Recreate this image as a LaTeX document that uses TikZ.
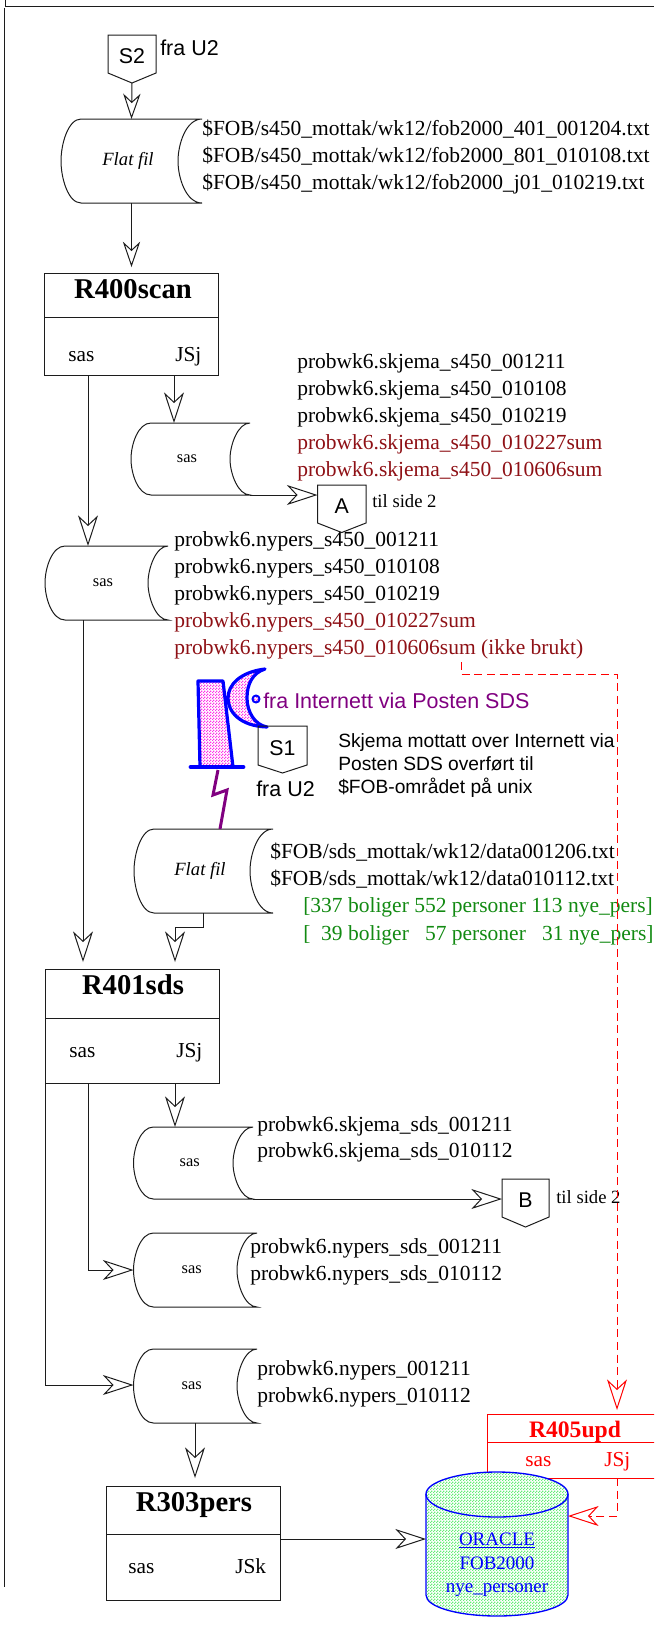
\documentclass[tikz,border=0pt]{standalone}
\usepackage{fontspec}
\setmainfont{Liberation Serif}
\newfontfamily\arialf{Liberation Sans}
\usetikzlibrary{arrows.meta,fit,patterns,calc}
\newcommand\fsz[1]{\fontsize{#1}{#1}\selectfont}
\definecolor{lnk}{HTML}{1C1C1C}
\definecolor{dkred}{HTML}{8E1015}
\definecolor{grn}{HTML}{128A12}
\definecolor{prp}{HTML}{800080}
\definecolor{dotgreen}{HTML}{66EE77}
\definecolor{dotmag}{HTML}{FF33E8}
\pgfdeclarepatternformonly{finecheck}{\pgfpointorigin}{\pgfqpoint{2pt}{2pt}}{\pgfqpoint{2pt}{2pt}}{%
  \pgfpathrectangle{\pgfpointorigin}{\pgfqpoint{1pt}{1pt}}%
  \pgfpathrectangle{\pgfqpoint{1pt}{1pt}}{\pgfqpoint{1pt}{1pt}}%
  \pgfusepath{fill}}
\tikzset{
  bigtip/.tip={Stealth[open,length=23pt,width=15pt,inset=7pt]},
  smalltip/.tip={Stealth[open,length=19pt,width=13pt,inset=6pt]},
  shape line/.style={draw=lnk,line width=.75pt},
  conn/.style={draw=lnk,line width=.75pt,-bigtip},
  connsmall/.style={draw=lnk,line width=.75pt,-smalltip},
  redconn/.style={draw=red,line width=.75pt,dash pattern=on 6pt off 3.5pt,-bigtip},
  boxfit/.style={inner sep=0pt,outer sep=0pt},
  txt/.style={anchor=base west,inner sep=0pt,font=\fsz{16.12}},
  ttl/.style={anchor=base,inner sep=0pt,font=\fsz{21.5}\bfseries},
  lbl/.style={anchor=base west,inner sep=0pt,font=\fsz{16}},
  sm/.style={anchor=base west,inner sep=0pt,font=\fsz{14}},
  sans/.style={anchor=base west,inner sep=0pt,font=\arialf\fsz{16.1}},
  sansnote/.style={anchor=base west,inner sep=0pt,font=\arialf\fsz{14.4}},
  letter/.style={anchor=base,inner sep=0pt,font=\arialf\fsz{16}},
  filetxt/.style={anchor=center,inner sep=0pt},
  dbtxt/.style={anchor=base,inner sep=0pt,text=blue,font=\fsz{#1}},
  dish/.style={draw=blue,line width=2.4pt,line join=round,preaction={fill=white},pattern=finecheck,pattern color=dotmag},
}
% process box
\newcommand\procbox[7][lnk]{%
  \node[boxfit,draw=#1,line width=.75pt,fit={(#3,#4)(#5,#6)}] (#2) {};
  \draw[#1,line width=.75pt] (#3,#7) -- (#5,#7);
}
% off-page connector: name,x1,y1,x2,yside,ytip,letter
\newcommand\offpage[7]{%
  \node[boxfit,fit={(#2,#3)(#4,#6)}] (#1) {};
  \pgfmathsetmacro\xm{(#2+#4)/2}
  \draw[shape line,line join=miter] (#2,#3) -- (#4,#3) -- (#4,#5) -- (\xm,#6) -- (#2,#5) -- cycle;
  \pgfmathsetmacro\yb{#5-10}
  \node[letter] (#1-t) at (\xm,\yb) {#7};
}
% data store: name,xl,yt,xr,yb,xi,font,text
\newcommand\storage[8]{%
  \node[boxfit,fit={(#2,#3)(#4,#5)}] (#1) {};
  \pgfmathsetmacro\ym{(#3+#5)/2}
  \pgfmathsetmacro\xs{#2+20}
  \pgfmathsetmacro\dy{(#5-#3)*0.2}
  \draw[shape line] (#4,#3) -- (\xs,#3)
    .. controls ({#2+7},#3) and (#2,{\ym-\dy}) .. (#2,\ym)
    .. controls (#2,{\ym+\dy}) and ({#2+7},#5) .. (\xs,#5) -- (#4,#5)
    .. controls ({#6+8},#5) and (#6,{\ym+\dy}) .. (#6,\ym)
    .. controls (#6,{\ym-\dy}) and ({#6+8},#3) .. (#4,#3);
  \pgfmathsetmacro\xt{(#2+#4)/2-3.5}
  \node[filetxt,font=#7] (#1-t) at (\xt,\ym) {#8};
}
\begin{document}
\begin{tikzpicture}[x=.75pt,y=-.75pt]
\useasboundingbox (0,0) rectangle (654,1629);
\clip (0,0) rectangle (654,1629);
% page frame
\draw[shape line] (5,0) -- (5,6.5) -- (654,6.5);
\draw[shape line] (4,8) -- (4,1587);

% S2 and first flat file
\offpage{s2}{108}{35}{156}{73}{83}{S2}
\node[sans] (s2l) at (160,55) {fra U2};
\storage{flat1}{61}{119}{202}{203}{178}{\fsz{14}\itshape}{Flat fil}
\draw[connsmall] (s2.south) -- (131.5,0 |- flat1.north);
\node[txt] (f1a) at (202,135) {\$FOB/s450\_mottak/wk12/fob2000\_401\_001204.txt};
\node[txt] (f1b) at (202,162) {\$FOB/s450\_mottak/wk12/fob2000\_801\_010108.txt};
\node[txt] (f1c) at (202,189) {\$FOB/s450\_mottak/wk12/fob2000\_j01\_010219.txt};

% R400scan
\procbox{r400}{44.5}{273}{218}{375}{317}
\node[ttl] (r400t) at (133,298) {R400scan};
\node[lbl] (r400a) at (68,361) {sas};
\node[lbl] (r400b) at (175,361) {JSj};
\draw[connsmall,shorten >=4.5pt] (131.5,0 |- flat1.south) -- (131.5,0 |- r400.north);

% store skjema s450
\storage{st1}{131}{423}{250}{495}{230}{\fsz{12.3}}{sas}
\draw[conn] (174,0 |- r400.south) -- (174,0 |- st1.north);
\foreach \nm/\yy/\cc/\tx in {sk1/368/black/001211,sk2/395/black/010108,sk3/422/black/010219,sk4/449/dkred/010227sum,sk5/476/dkred/010606sum}
  \node[txt,text=\cc] (\nm) at (297,\yy) {probwk6.skjema\_s450\_\tx};
\offpage{nodeA}{317.5}{485}{366}{523}{532.5}{A}
\node[sm] (tilA) at (372,507) {til side 2};
\draw[conn] (st1.south east) -- (nodeA.west |- st1.south east);

% store nypers s450
\storage{st2}{45}{546}{168}{620}{148}{\fsz{12.3}}{sas}
\draw[conn] (88,0 |- r400.south) -- (88,0 |- st2.north);
\foreach \nm/\yy/\cc/\tx in {ny1/546/black/001211,ny2/573/black/010108,ny3/600/black/010219,ny4/627/dkred/010227sum,ny5/654/dkred/010606sum (ikke brukt)}
  \node[txt,text=\cc] (\nm) at (174,\yy) {probwk6.nypers\_s450\_\tx};

% dish icon
\draw[dish] (198,681) -- (223,681) -- (233,767) -- (200,767) -- cycle;
\draw[dish] (265,669) .. controls (240,672) and (228,685) .. (228,698)
   .. controls (228,712) and (240,726) .. (267,727)
   .. controls (255,725) and (247,712) .. (247,698)
   .. controls (247,685) and (252,673) .. (265,669) -- cycle;
\draw[blue,line width=2.4pt] (225,698) -- (228,698);
\draw[blue,line width=3.6pt,line cap=round] (191,767) -- (243,767);
\draw[dish,line width=1.5pt] (256,699) circle [radius=3.5];
\coordinate (dishfoot) at (218,770);
\node[sans,text=prp] (inet) at (263,708) {fra Internett via Posten SDS};
\offpage{s1}{258}{726}{307}{765}{773}{S1}
\node[sans] (s1l) at (256,796) {fra U2};
\node[sansnote] (n1) at (338,747) {Skjema mottatt over Internett via};
\node[sansnote] (n2) at (338,770) {Posten SDS overf\o{}rt til};
\node[sansnote] (n3) at (338,793) {\$FOB-omr\aa{}det p\aa{} unix};

% second flat file
\storage{flat2}{134}{829}{273}{913}{250}{\fsz{14}\itshape}{Flat fil}
\draw[prp,line width=2.25pt,line join=miter] (dishfoot) -- (213,795) -- (227,790) -- (220,0 |- flat2.north);
\node[txt] (f2a) at (270,858) {\$FOB/sds\_mottak/wk12/data001206.txt};
\node[txt] (f2b) at (270,885) {\$FOB/sds\_mottak/wk12/data010112.txt};
\node[txt,text=grn] (g1) at (303,912) {[337 boliger 552 personer 113 nye\_pers]};
\node[txt,text=grn] (g2) at (303,940) {[\ \ 39 boliger \ \ 57 personer \ \ 31 nye\_pers]};

% R401sds
\procbox{r401}{45}{969}{219}{1083}{1018}
\node[ttl] (r401t) at (133,994) {R401sds};
\node[lbl] (r401a) at (69,1057) {sas};
\node[lbl] (r401b) at (176,1057) {JSj};
\draw[conn,shorten >=5.25pt] (83,0 |- st2.south) -- (83,0 |- r401.north);
\draw[conn,shorten >=5.25pt] (203,0 |- flat2.south) -- (203,927) -- (175,927) -- (175,0 |- r401.north);

% stores after R401
\storage{st3}{133.5}{1127}{253}{1199}{233}{\fsz{12.3}}{sas}
\storage{st4}{133.5}{1233}{257}{1307}{237}{\fsz{12.3}}{sas}
\storage{st5}{133.5}{1349}{257}{1423}{237}{\fsz{12.3}}{sas}
\draw[conn] (175,0 |- r401.south) -- (175,0 |- st3.north);
\draw[conn] (88,0 |- r401.south) |- (st4.west |- 0,1270);
\draw[conn] (r401.south west) |- (st5.west |- 0,1385);
\node[txt] (t3a) at (257,1131) {probwk6.skjema\_sds\_001211};
\node[txt] (t3b) at (257,1157) {probwk6.skjema\_sds\_010112};
\node[txt] (t4a) at (250,1253) {probwk6.nypers\_sds\_001211};
\node[txt] (t4b) at (250,1280) {probwk6.nypers\_sds\_010112};
\node[txt] (t5a) at (257,1375) {probwk6.nypers\_001211};
\node[txt] (t5b) at (257,1402) {probwk6.nypers\_010112};
\offpage{nodeB}{502}{1179}{549}{1217}{1227}{B}
\node[sm] (tilB) at (556,1203) {til side 2};
\draw[conn] (st3.south east) -- (nodeB.west |- st3.south east);

% R303pers
\procbox{r303}{106}{1486}{280}{1600}{1534}
\node[ttl] (r303t) at (194,1511) {R303pers};
\node[lbl] (r303a) at (128,1573) {sas};
\node[lbl] (r303b) at (235,1573) {JSk};
\draw[conn,shorten >=6pt] (195,0 |- st5.south) -- (195,0 |- r303.north);

% R405upd and dashed feed
\procbox[red]{r405}{487}{1414}{662}{1478}{1442}
\node[ttl,text=red,font=\fsz{17.7}\bfseries] (r405t) at (575,1437) {R405upd};
\node[lbl,text=red] (r405a) at (525,1466) {sas};
\node[lbl,text=red] (r405b) at (604,1466) {JSj};
\coordinate (redstart) at (461,662);
\draw[redconn,shorten >=3pt] (redstart) -- (461,674) -- (617,674) -- (617,0 |- r405.north);

% ORACLE cylinder
\node[boxfit,fit={(426,1472)(568,1616)}] (cyl) {};
\draw[draw=blue,line width=1pt,preaction={fill=white},pattern=finecheck,pattern color=dotgreen]
  (426,1494) .. controls (426,1482) and (458,1472) .. (497,1472)
  .. controls (536,1472) and (568,1482) .. (568,1494) -- (568,1595)
  .. controls (568,1607) and (536,1616) .. (497,1616)
  .. controls (458,1616) and (426,1607) .. (426,1595) -- cycle;
\draw[blue,line width=1pt] (426,1494) .. controls (426,1507) and (458,1517) .. (497,1517)
  .. controls (536,1517) and (568,1507) .. (568,1494);
\node[dbtxt=14.25] (db1) at (497,1545) {\underline{ORACLE}};
\node[dbtxt=14.25] (db2) at (497,1569) {FOB2000};
\node[dbtxt=14.25] (db3) at (497,1592) {nye\_personer};
\draw[redconn] (617,0 |- r405.south) |- (cyl.east |- 0,1516);
\draw[conn] (r303.east |- 0,1539) -- (cyl.west |- 0,1539);
\end{tikzpicture}
\end{document}
